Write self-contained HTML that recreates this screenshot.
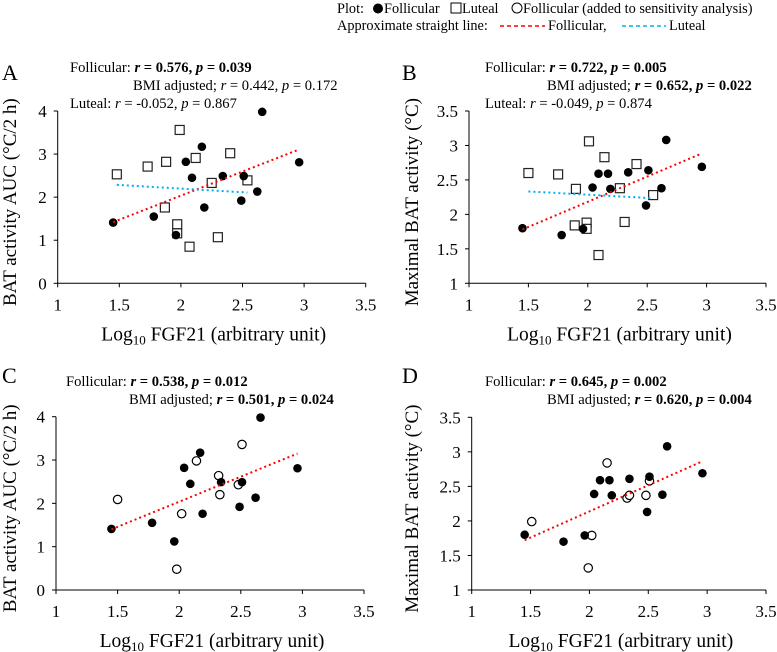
<!DOCTYPE html>
<html><head><meta charset="utf-8"><style>
body{margin:0;background:#fff}
svg{font-family:"Liberation Serif",serif;display:block}
</style></head><body>
<svg id="fig" width="777" height="652" viewBox="0 0 777 652">
<g font-size="14.3">
<text x="337" y="13">Plot: </text>
<circle cx="378" cy="8.5" r="5" fill="#000"/>
<text x="384" y="13">Follicular</text>
<rect x="451" y="3" width="10" height="10" fill="none" stroke="#000" stroke-width="1"/>
<text x="462" y="13">Luteal</text>
<circle cx="517" cy="8" r="5" fill="none" stroke="#000" stroke-width="1"/>
<text x="523" y="13">Follicular (added to sensitivity analysis)</text>
<text x="337" y="30">Approximate straight line: </text>
<line x1="500" y1="26" x2="545" y2="26" stroke="#ff0000" stroke-width="1.5" stroke-dasharray="4,3"/>
<text x="548" y="30">Follicular,</text>
<line x1="622" y1="26" x2="666" y2="26" stroke="#00b0f0" stroke-width="1.5" stroke-dasharray="4,3"/>
<text x="669" y="30">Luteal</text>
</g>
</svg>
<script>
const folX=[1.45,1.78,1.96,2.04,2.09,2.17,2.19,2.34,2.49,2.51,2.62,2.66,2.96];
const folAucA=[1.41,1.55,1.12,2.82,2.45,3.17,1.76,2.49,1.92,2.49,2.13,3.98,2.81];
const lutAX=[1.48,1.73,1.88,1.87,1.99,1.97,1.97,2.07,2.12,2.25,2.30,2.40,2.54];
const lutAucA=[2.53,2.71,2.82,1.76,3.56,1.37,1.16,0.85,2.91,2.33,1.07,3.02,2.39];
const folMaxB=[1.80,1.70,1.79,2.39,2.59,2.59,2.37,2.61,2.13,2.64,2.38,3.08,2.69];
const lutBX=[1.50,1.75,1.90,1.89,2.01,1.99,1.99,2.09,2.14,2.27,2.31,2.41,2.55];
const lutMaxB=[2.60,2.58,2.37,1.84,3.06,1.88,1.79,1.41,2.83,2.38,1.89,2.73,2.28];
const addCX=[1.50,2.02,1.98,2.14,2.32,2.33,2.48,2.51];
const addAucC=[2.09,1.76,0.48,2.98,2.64,2.20,2.43,3.36];
const addDX=[1.51,2.02,1.99,2.15,2.32,2.34,2.48,2.51];
const addMaxD=[1.99,1.79,1.32,2.84,2.33,2.37,2.37,2.58];
const xTicks=[1,1.5,2,2.5,3,3.5];
const aucTicks=[0,1,2,3,4];
const maxTicks=[1,1.5,2,2.5,3,3.5];

const NS="http://www.w3.org/2000/svg";
const svg=document.getElementById('fig');
function mk(tag,attrs,parent,txt){const e=document.createElementNS(NS,tag);for(const k in attrs)e.setAttribute(k,attrs[k]);if(txt!==undefined)e.textContent=txt;parent.appendChild(e);return e;}
function fit(xs,ys){const n=xs.length;let mx=0,my=0;for(let i=0;i<n;i++){mx+=xs[i];my+=ys[i];}mx/=n;my/=n;let sxy=0,sxx=0;for(let i=0;i<n;i++){sxy+=(xs[i]-mx)*(ys[i]-my);sxx+=(xs[i]-mx)**2;}const b=sxy/sxx;return [b,my-b*mx];}

function panel(o){
  const g=mk('g',{},svg);
  
  
  const sx=v=>o.x0+(v-1)/2.5*(o.x1-o.x0);
  const sy=v=>o.yb-(v-o.ymin)/(o.ymax-o.ymin)*(o.yb-o.yt);
  const ax=mk('g',{stroke:'#000','stroke-width':1},g);
  
  
  mk('line',{x1:o.x0,y1:o.yb,x2:o.x1,y2:o.yb},ax);
  mk('line',{x1:o.x0,y1:o.yb,x2:o.x0,y2:o.yt},ax);
  xTicks.forEach(t=>{mk('line',{x1:sx(t),y1:o.yb,x2:sx(t),y2:o.yb+4},ax);
    const tl=mk('text',{x:sx(t),y:o.yb+27,'text-anchor':'middle','font-size':17},g,String(t));
    
    });
  o.yt2.forEach(t=>{mk('line',{x1:o.x0-4,y1:sy(t),x2:o.x0,y2:sy(t)},ax);
    const tl=mk('text',{x:o.x0-11,y:sy(t)+6,'text-anchor':'end','font-size':17},g,String(t));
    
    });
  const xt=mk('text',{x:(o.x0+o.x1)/2+2,y:o.yb+57,'text-anchor':'middle','font-size':19.5},g);
  
  
  xt.innerHTML='Log<tspan font-size="13" dy="4">10</tspan><tspan dy="-4"> FGF21 (arbitrary unit)</tspan>';
  const yc=(o.yb+o.yt)/2+5;
  const yl=mk('text',{x:o.ylx,y:yc,'text-anchor':'middle','font-size':19,transform:`rotate(-90 ${o.ylx} ${yc})`,dy:6},g,o.ytitle);
  
  
  const lt=mk('text',{x:o.lx,y:o.ly,'font-size':22},g,o.letter);
  
  
  o.ann.forEach(a=>{const t=mk('text',{x:a[0],y:a[1],'font-size':14.6},g);t.innerHTML=a[2];
    
    });
  o.sets.forEach(s=>{
    s.x.forEach((xv,i)=>{
      const px=sx(xv),py=sy(s.y[i]);let m;
      if(s.kind==='sq') m=mk('rect',{x:px-4.5,y:py-4.5,width:9,height:9,fill:'#fff',stroke:'#222','stroke-width':1.2},g);
      else if(s.kind==='open') m=mk('circle',{cx:px,cy:py,r:4.2,fill:'#fff',stroke:'#000','stroke-width':1.2},g);
      else m=mk('circle',{cx:px,cy:py,r:4.3,fill:'#000'},g);
      
      
    });
  });
  o.lines.forEach(l=>{
    const [b,a]=fit(l.x,l.y);const xa=Math.min(...l.x),xb=Math.max(...l.x);
    const ln=mk('line',{x1:sx(xa),y1:sy(a+b*xa),x2:sx(xb),y2:sy(a+b*xb),stroke:l.c,'stroke-width':2,'stroke-dasharray':'2,3'},g);
    
    
  });
}
const aucT='BAT activity AUC (°C/2 h)', maxT='Maximal BAT activity (°C)';
panel({name:'panel-a',x0:57.7,x1:365.7,yb:283.3,yt:111,ymin:0,ymax:4,yt2:aucTicks,ytitle:aucT,ylx:10,letter:'A',lx:2,ly:80,
 ann:[[70,72,'Follicular: <tspan font-weight="bold"><tspan font-style="italic">r</tspan> = 0.576, <tspan font-style="italic">p</tspan> = 0.039</tspan>'],[133,90,'BMI adjusted; <tspan font-style="italic">r</tspan> = 0.442, <tspan font-style="italic">p</tspan> = 0.172'],[70,108,'Luteal: <tspan font-style="italic">r</tspan> = -0.052, <tspan font-style="italic">p</tspan> = 0.867']],
 sets:[{x:lutAX,y:lutAucA,kind:'sq'},{x:folX,y:folAucA,kind:'fill'}],
 lines:[{x:folX,y:folAucA,c:'#ff0000',n:'follicular-trendline'},{x:lutAX,y:lutAucA,c:'#00b0f0',n:'luteal-trendline'}]});
panel({name:'panel-b',x0:469,x1:766,yb:283.3,yt:111,ymin:1,ymax:3.5,yt2:maxTicks,ytitle:maxT,ylx:412,letter:'B',lx:402,ly:80,
 ann:[[485,72,'Follicular: <tspan font-weight="bold"><tspan font-style="italic">r</tspan> = 0.722, <tspan font-style="italic">p</tspan> = 0.005</tspan>'],[547,90,'BMI adjusted; <tspan font-weight="bold"><tspan font-style="italic">r</tspan> = 0.652, <tspan font-style="italic">p</tspan> = 0.022</tspan>'],[485,108,'Luteal: <tspan font-style="italic">r</tspan> = -0.049, <tspan font-style="italic">p</tspan> = 0.874']],
 sets:[{x:lutBX,y:lutMaxB,kind:'sq'},{x:folX,y:folMaxB,kind:'fill'}],
 lines:[{x:folX,y:folMaxB,c:'#ff0000',n:'follicular-trendline'},{x:lutBX,y:lutMaxB,c:'#00b0f0',n:'luteal-trendline'}]});
panel({name:'panel-c',x0:56,x1:364,yb:590,yt:416.7,ymin:0,ymax:4,yt2:aucTicks,ytitle:aucT,ylx:10,letter:'C',lx:2,ly:383,
 ann:[[66,386,'Follicular: <tspan font-weight="bold"><tspan font-style="italic">r</tspan> = 0.538, <tspan font-style="italic">p</tspan> = 0.012</tspan>'],[129,404,'BMI adjusted; <tspan font-weight="bold"><tspan font-style="italic">r</tspan> = 0.501, <tspan font-style="italic">p</tspan> = 0.024</tspan>']],
 sets:[{x:addCX,y:addAucC,kind:'open'},{x:folX,y:folAucA,kind:'fill'}],
 lines:[{x:folX.concat(addCX),y:folAucA.concat(addAucC),c:'#ff0000',n:'follicular-trendline'}]});
panel({name:'panel-d',x0:471.7,x1:766,yb:590,yt:417.3,ymin:1,ymax:3.5,yt2:maxTicks,ytitle:maxT,ylx:412,letter:'D',lx:402,ly:383,
 ann:[[485,386,'Follicular: <tspan font-weight="bold"><tspan font-style="italic">r</tspan> = 0.645, <tspan font-style="italic">p</tspan> = 0.002</tspan>'],[547,404,'BMI adjusted; <tspan font-weight="bold"><tspan font-style="italic">r</tspan> = 0.620, <tspan font-style="italic">p</tspan> = 0.004</tspan>']],
 sets:[{x:addDX,y:addMaxD,kind:'open'},{x:folX,y:folMaxB,kind:'fill'}],
 lines:[{x:folX.concat(addDX),y:folMaxB.concat(addMaxD),c:'#ff0000',n:'follicular-trendline'}]});
</script>
</body></html>
